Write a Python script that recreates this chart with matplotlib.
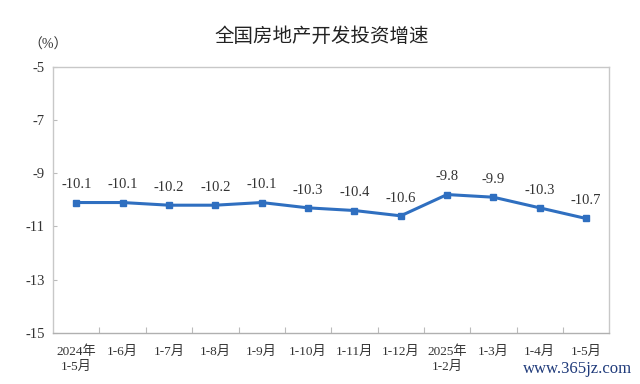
import matplotlib
matplotlib.use("Agg")
import matplotlib.pyplot as plt

months = ["2024年\n1-5月", "1-6月", "1-7月", "1-8月", "1-9月", "1-10月", "1-11月",
          "1-12月", "2025年\n1-2月", "1-3月", "1-4月", "1-5月"]
growth = [-10.1, -10.1, -10.2, -10.2, -10.1, -10.3, -10.4, -10.6, -9.8, -9.9, -10.3, -10.7]
y_ticks = [-5, -7, -9, -11, -13, -15]

serif = ["Liberation Serif", "Noto Sans CJK SC"]
sans = ["Noto Sans CJK SC", "DejaVu Sans"]

fig = plt.figure(figsize=(6.4, 3.84), dpi=100)
ax = fig.add_axes([0.083, 0.133, 0.869, 0.693])

x = list(range(len(months)))
ax.plot(x, growth, color="#2f6fc0", linewidth=2.2, marker="s", markersize=4.5)
for xi, v in zip(x, growth):
    ax.annotate(f"{v}", (xi, v), xytext=(0, 8), textcoords="offset points",
                ha="center", va="bottom", fontsize=10.5, color="#333333", family=serif)

ax.set_xlim(-0.5, len(months) - 0.5)
ax.set_ylim(-15, -5)
ax.set_yticks(y_ticks)
ax.set_yticklabels([str(t) for t in y_ticks], family=serif, fontsize=10.5, color="#333333")
ax.set_xticks([i + 0.5 for i in range(len(months) - 1)])
ax.set_xticklabels([])
ax.set_xticks(x, minor=True)
ax.set_xticklabels(months, minor=True, family=serif, fontsize=9.5, color="#333333",
                   linespacing=1.35)
ax.tick_params(axis="x", which="major", direction="in", length=4, color="#bbbbbb")
ax.tick_params(axis="x", which="minor", length=0, pad=9)
ax.tick_params(axis="y", direction="in", length=3, color="#bbbbbb", pad=6)

for s in ax.spines.values():
    s.set_color("#c8c8c8")
    s.set_linewidth(1.0)
ax.spines["bottom"].set_color("#b0b0b0")

fig.text(0.503, 0.905, "全国房地产开发投资增速", ha="center", va="center",
         fontsize=14, family=sans, color="#222222")
fig.text(0.075, 0.882, "（%）", ha="center", va="center", fontsize=10,
         family=serif, color="#333333")
fig.text(0.988, 0.039, "www.365jz.com", ha="right", va="center", fontsize=12,
         family=["Liberation Serif"], color="#1f3a7a")

fig.savefig("out.png", dpi=100)
